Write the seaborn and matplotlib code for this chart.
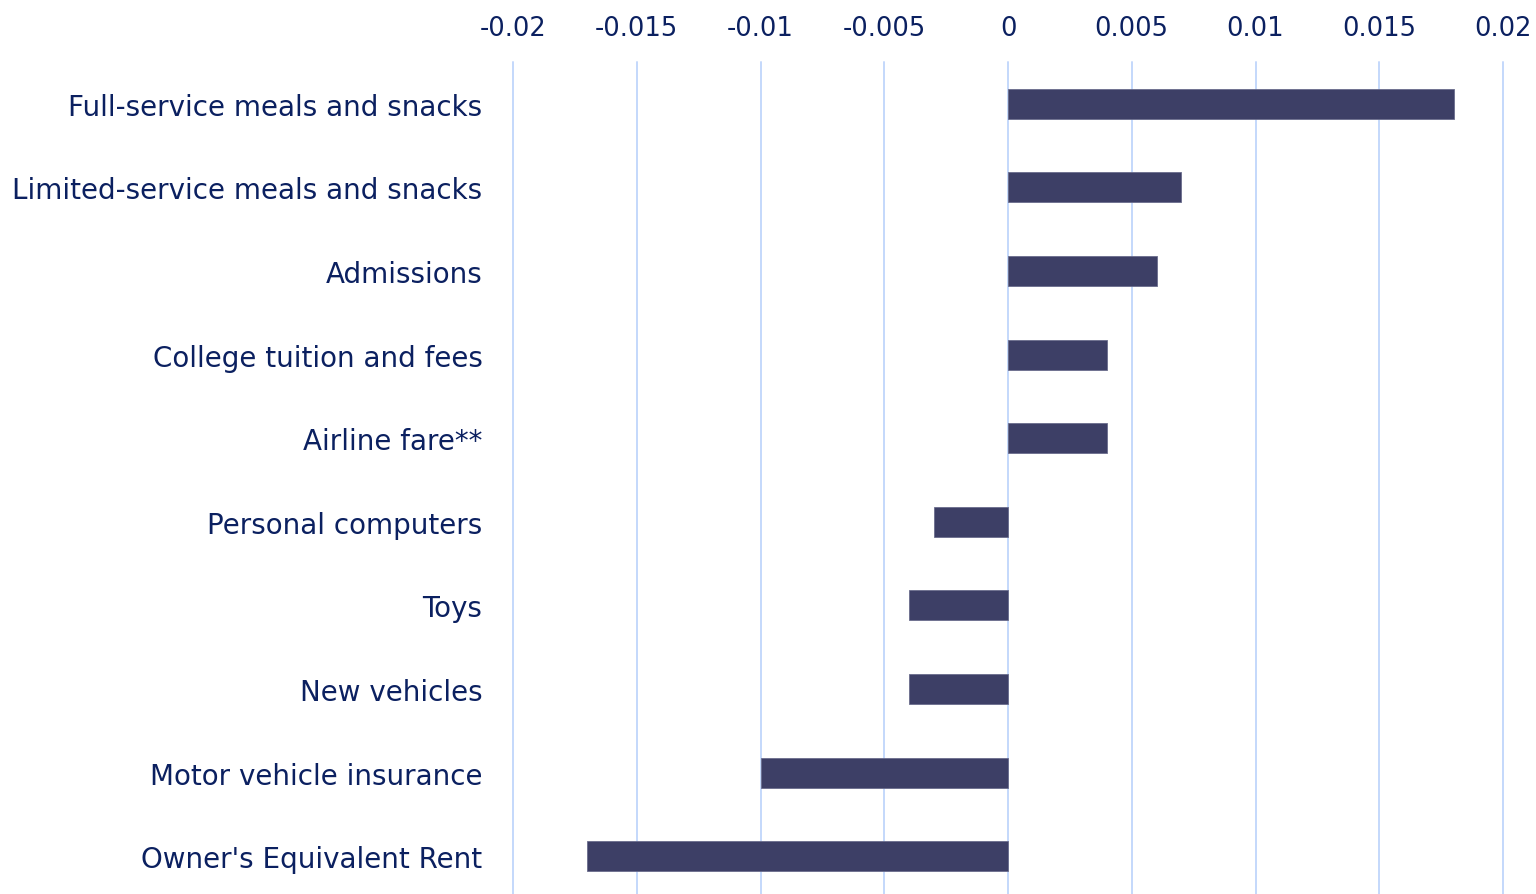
import numpy as np
import pandas as pd
import matplotlib
matplotlib.use("Agg")
import matplotlib.pyplot as plt
import seaborn as sns
from matplotlib.ticker import FuncFormatter

categories = [
    "Full-service meals and snacks",
    "Limited-service meals and snacks",
    "Admissions",
    "College tuition and fees",
    "Airline fare**",
    "Personal computers",
    "Toys",
    "New vehicles",
    "Motor vehicle insurance",
    "Owner's Equivalent Rent",
]
contributions = [0.018, 0.007, 0.006, 0.004, 0.004, -0.003, -0.004, -0.004, -0.010, -0.017]
x_ticks = [-0.02, -0.015, -0.01, -0.005, 0, 0.005, 0.01, 0.015, 0.02]

BAR = "#3d3f66"
TEXT = "#0b2060"
GRID = "#c4d8fb"

sns.set_style("white")
plt.rcParams["font.family"] = ["DejaVu Sans"]
plt.rcParams["axes.unicode_minus"] = False

df = pd.DataFrame({"category": categories, "value": contributions})

fig = plt.figure(figsize=(15.36, 8.95), dpi=100)
ax = fig.add_axes([513 / 1536, -4 / 895, 990 / 1536, 836 / 895])

sns.barplot(data=df, x="value", y="category", color=BAR, width=0.36,
            saturation=1, edgecolor="#6a6c8c", linewidth=0.6, ax=ax, zorder=3)

ax.set_xlim(-0.02, 0.02)
ax.set_ylim(len(categories) - 0.5, -0.5)
ax.set_xticks(x_ticks)
ax.xaxis.set_major_formatter(FuncFormatter(lambda v, p: "0" if abs(v) < 1e-12 else f"{v:g}"))
ax.xaxis.tick_top()
ax.grid(axis="x", color=GRID, linewidth=1.4, zorder=0)
ax.set_axisbelow(True)
for gl in ax.get_xgridlines():
    gl.set_clip_on(False)
for s in ax.spines.values():
    s.set_visible(False)
ax.tick_params(axis="x", length=0, pad=15, labelsize=18.5, labelcolor=TEXT)
ax.tick_params(axis="y", length=0, pad=22, labelsize=20, labelcolor=TEXT)
ax.set_xlabel("")
ax.set_ylabel("")

fig.savefig("out.png", dpi=100)
